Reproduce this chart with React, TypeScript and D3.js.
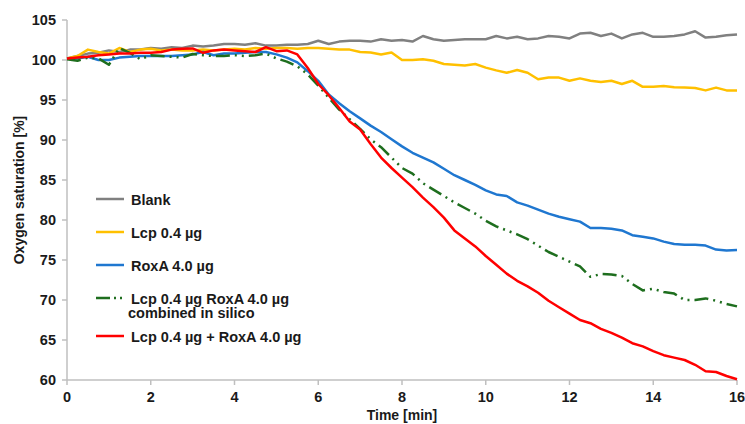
import React from 'react';
import * as d3 from 'd3';

// sampling grid [min]
const times = [
  0, 0.25, 0.5, 0.75, 1, 1.25, 1.5, 1.75, 2, 2.25, 2.5, 2.75, 3, 3.25, 3.5, 3.75,
  4, 4.25, 4.5, 4.75, 5, 5.25, 5.5, 5.75, 6, 6.25, 6.5, 6.75, 7, 7.25, 7.5, 7.75,
  8, 8.25, 8.5, 8.75, 9, 9.25, 9.5, 9.75, 10, 10.25, 10.5, 10.75, 11, 11.25, 11.5, 11.75,
  12, 12.25, 12.5, 12.75, 13, 13.25, 13.5, 13.75, 14, 14.25, 14.5, 14.75, 15, 15.25, 15.5, 15.75, 16,
];

const blank = [
  100.2, 100.5, 100.8, 100.9, 101.2, 101.0, 101.3, 101.3, 101.5, 101.4, 101.6, 101.5, 101.8, 101.7, 101.8, 102.0,
  102.0, 101.9, 102.1, 101.8, 101.8, 101.9, 101.9, 102.0, 102.4, 102.0, 102.3, 102.4, 102.4, 102.3, 102.6, 102.4,
  102.5, 102.3, 103.0, 102.6, 102.4, 102.5, 102.6, 102.6, 102.6, 103.0, 102.7, 102.9, 102.6, 102.7, 103.0, 102.9,
  102.7, 103.3, 103.4, 103.0, 103.3, 102.7, 103.2, 103.4, 102.9, 102.9, 103.0, 103.2, 103.6, 102.8, 102.9, 103.1, 103.2,
];

const lcp = [
  100.2, 100.5, 101.3, 101.0, 100.8, 101.5, 101.0, 101.3, 101.4, 101.2, 101.3, 101.2, 101.2, 101.3, 101.2, 101.3,
  101.4, 101.3, 101.5, 101.4, 101.5, 101.5, 101.4, 101.5, 101.5, 101.4, 101.3, 101.3, 101.0, 100.95, 100.7, 100.95,
  100.0, 100.0, 100.1, 99.9, 99.5, 99.4, 99.3, 99.5, 99.05, 98.7, 98.4, 98.75, 98.4, 97.6, 97.8, 97.8,
  97.4, 97.7, 97.4, 97.25, 97.4, 97.0, 97.4, 96.65, 96.65, 96.75, 96.6, 96.55, 96.5, 96.2, 96.55, 96.2, 96.2,
];

const roxA = [
  100.2, 100.2, 100.4, 100.0, 100.0, 100.3, 100.4, 100.5, 100.5, 100.5, 100.5, 100.6, 100.7, 101.0, 100.6, 100.8,
  100.8, 100.9, 101.0, 101.0, 100.7, 100.3, 99.7, 98.6, 97.4, 95.7, 94.6, 93.6, 92.7, 91.8, 91.0, 90.1,
  89.2, 88.4, 87.8, 87.2, 86.4, 85.6, 85.0, 84.4, 83.7, 83.2, 83.0, 82.2, 81.8, 81.3, 80.8, 80.4,
  80.1, 79.8, 79.0, 79.0, 78.9, 78.7, 78.1, 77.9, 77.7, 77.3, 77.0, 76.9, 76.9, 76.8, 76.3, 76.2, 76.25,
];

const combined = [
  100.1, 99.9, 100.3, 100.2, 99.4, 101.5, 100.9, 100.1, 100.6, 100.5, 100.4, 100.3, 100.75, 100.6, 100.5, 100.5,
  100.6, 100.5, 100.6, 100.8, 100.2, 99.8, 99.2, 98.2, 96.8, 95.3, 93.8, 92.6, 91.4, 90.1, 89.1, 87.8,
  86.5, 85.8, 84.6, 83.8, 83.0, 82.2, 81.5, 80.8, 79.9, 79.2, 78.7, 78.2, 77.6, 76.8, 76.0, 75.4,
  74.8, 74.2, 72.9, 73.25, 73.2, 73.0, 72.0, 71.2, 71.4, 71.0, 70.8, 70.0, 70.0, 70.2, 69.9, 69.5, 69.2,
];

const lcpRoxA = [
  100.2, 100.3, 100.4, 100.6, 100.7, 100.8, 100.8, 100.9, 100.9, 101.0, 101.3, 101.4, 101.45, 100.9, 101.2, 101.3,
  101.2, 101.1, 101.0, 101.6, 101.1, 101.2, 100.7, 99.0, 97.0, 95.6, 94.0, 92.3, 91.3, 89.5, 87.8, 86.5,
  85.3, 84.1, 82.8, 81.6, 80.3, 78.7, 77.7, 76.7, 75.5, 74.4, 73.3, 72.4, 71.7, 70.9, 69.9, 69.1,
  68.3, 67.5, 67.1, 66.4, 65.9, 65.3, 64.6, 64.2, 63.6, 63.1, 62.8, 62.5, 61.9, 61.1, 61.0, 60.5, 60.1,
];

const xTicks = [0, 2, 4, 6, 8, 10, 12, 14, 16];
const yTicks = [60, 65, 70, 75, 80, 85, 90, 95, 100, 105];

const series = [
  { name: 'Blank', values: blank, color: '#808080', dash: null },
  { name: 'Lcp 0.4 µg', values: lcp, color: '#ffc000', dash: null },
  { name: 'RoxA 4.0 µg', values: roxA, color: '#1f77d0', dash: null },
  { name: 'Lcp 0.4 µg RoxA 4.0 µg', values: combined, color: '#1e6e1e', dash: '14 5 2 5 2 5' },
  { name: 'Lcp 0.4 µg + RoxA 4.0 µg', values: lcpRoxA, color: '#ff0000', dash: null },
];

const W = 745;
const H = 424;
const margin = { top: 20, right: 8, bottom: 44, left: 67 };
const font = '"Liberation Sans", Arial, sans-serif';

export default function App() {
  const x = d3.scaleLinear().domain([0, 16]).range([margin.left, W - margin.right]);
  const y = d3.scaleLinear().domain([60, 105]).range([H - margin.bottom, margin.top]);

  const line = (vals: number[]) =>
    d3.line<number>()
      .x((_, i) => x(times[i]))
      .y(d => y(d))(vals) as string;

  const axisColor = '#bfbfbf';
  const x0 = x(0);
  const yBase = y(60);

  // legend rows, top to bottom
  const legendY = [199, 232, 265, 298, 336];

  return (
    <svg width={W} height={H} style={{ position: 'absolute', left: 0, top: 0, background: '#fff' }}
      fontFamily={font} fontWeight="bold" fontSize={14.5} fill="#1a1a1a">
      {/* axes */}
      <line x1={x0} x2={x0} y1={y(105)} y2={yBase} stroke={axisColor} strokeWidth={1.5} />
      <line x1={x0} x2={x(16)} y1={yBase} y2={yBase} stroke={axisColor} strokeWidth={1.5} />
      {yTicks.map(t => (
        <g key={'y' + t}>
          <line x1={x0 - 5} x2={x0} y1={y(t)} y2={y(t)} stroke={axisColor} strokeWidth={1.5} />
          <text x={x0 - 11} y={y(t)} dy="0.35em" textAnchor="end">{t}</text>
        </g>
      ))}
      {xTicks.map(t => (
        <g key={'x' + t}>
          <line x1={x(t)} x2={x(t)} y1={yBase} y2={yBase + 5} stroke={axisColor} strokeWidth={1.5} />
          <text x={x(t)} y={yBase + 21.5} textAnchor="middle">{t}</text>
        </g>
      ))}
      <text x={(x(0) + x(16)) / 2} y={H - 4} textAnchor="middle" fontSize={14}>Time [min]</text>
      <text transform={`translate(24,${(y(60) + y(105)) / 2 - 10}) rotate(-90)`} textAnchor="middle" fontSize={14}>
        Oxygen saturation [%]
      </text>

      {/* data lines */}
      {series.map(s => (
        <path key={s.name} d={line(s.values)} fill="none" stroke={s.color} strokeWidth={2.5}
          strokeDasharray={s.dash || undefined} strokeLinejoin="round" />
      ))}

      {/* legend */}
      {series.map((s, i) => (
        <g key={'lg' + i}>
          <line x1={96} x2={124} y1={legendY[i]} y2={legendY[i]} stroke={s.color} strokeWidth={2.5}
            strokeDasharray={s.dash ? '14 4 2 4 2 4' : undefined} />
          <text x={131} y={legendY[i] + 5.5}>{s.name}</text>
          {s.dash && <text x={128} y={legendY[i] + 20}>combined in silico</text>}
        </g>
      ))}
    </svg>
  );
}
